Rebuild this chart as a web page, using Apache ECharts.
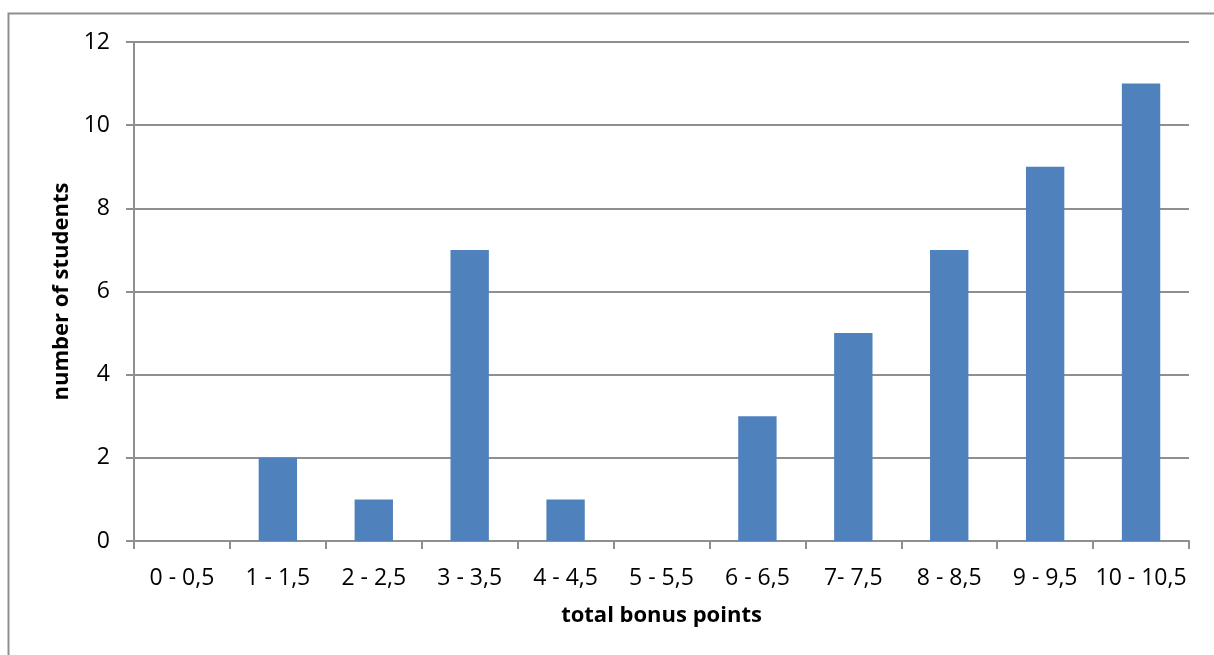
<!DOCTYPE html>
<html>
<head>
<meta charset="utf-8">
<script src="https://cdn.jsdelivr.net/npm/echarts@6/dist/echarts.min.js"></script>
<style>
  html, body { margin: 0; padding: 0; background: #fff; }
  #chart { width: 1214px; height: 655px; }
</style>
</head>
<body>
<div id="chart"></div>
<script>
// Bonus-point ranges and how many students fell into each
const categories = ['0 - 0,5', '1 - 1,5', '2 - 2,5', '3 - 3,5', '4 - 4,5', '5 - 5,5',
                    '6 - 6,5', '7- 7,5', '8 - 8,5', '9 - 9,5', '10 - 10,5'];
const students = [0, 2, 1, 7, 1, 0, 3, 5, 7, 9, 11];
const yTicks = { min: 0, max: 12, interval: 2 };

const FONT = '"Open Sans", "Noto Sans", sans-serif';
const GRAY = '#8f8f8f';

const chart = echarts.init(document.getElementById('chart'), null, { renderer: 'canvas' });

chart.setOption({
  animation: false,
  backgroundColor: '#fff',
  graphic: [{
    type: 'rect',
    shape: { x: 8.5, y: 13.5, width: 1400, height: 1000 },
    style: { fill: 'none', stroke: GRAY, lineWidth: 2 },
    silent: true,
    z: -1
  }],
  grid: { left: 134, right: 25, top: 42, bottom: 114, containLabel: false },
  xAxis: {
    type: 'category',
    data: categories,
    name: 'total bonus points',
    nameLocation: 'middle',
    nameGap: 64,
    nameTextStyle: { fontFamily: FONT, fontWeight: 'bold', fontSize: 22, color: '#000' },
    axisLine: { lineStyle: { color: GRAY, width: 2 } },
    axisTick: { show: true, alignWithLabel: false, length: 8, lineStyle: { color: GRAY, width: 2 } },
    axisLabel: { fontFamily: FONT, fontSize: 23, color: '#000', margin: 26, interval: 0 }
  },
  yAxis: {
    type: 'value',
    min: yTicks.min,
    max: yTicks.max,
    interval: yTicks.interval,
    name: 'number of students',
    nameLocation: 'middle',
    nameGap: 60,
    nameTextStyle: { fontFamily: FONT, fontWeight: 'bold', fontSize: 22, color: '#000' },
    axisLine: { show: true, lineStyle: { color: GRAY, width: 2 } },
    axisTick: { show: true, length: 8, lineStyle: { color: GRAY, width: 2 } },
    axisLabel: { fontFamily: FONT, fontSize: 23, color: '#000', margin: 24 },
    splitLine: { show: true, lineStyle: { color: GRAY, width: 2 } }
  },
  series: [{
    type: 'bar',
    data: students,
    barCategoryGap: '60%',
    itemStyle: { color: '#4F81BD' }
  }]
});
</script>
</body>
</html>
